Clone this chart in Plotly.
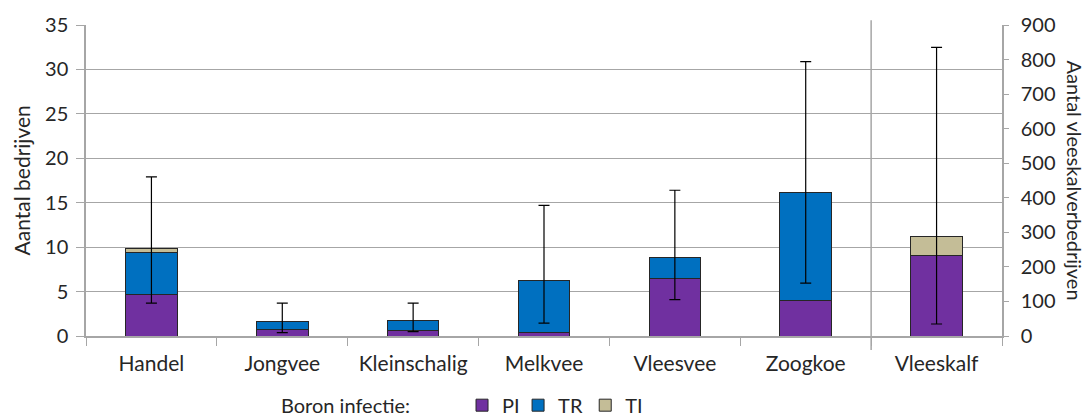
import plotly.graph_objects as go

categories = ["Handel", "Jongvee", "Kleinschalig", "Melkvee", "Vleesvee", "Zoogkoe", "Vleeskalf"]
left_cats = categories[:6]
right_cats = categories[6:]

# left axis (Aantal bedrijven)
pi_left = [4.7, 0.75, 0.64, 0.37, 6.45, 3.94]
tr_left = [4.72, 0.83, 1.16, 5.93, 2.33, 12.23]
ti_left = [0.41, 0.0, 0.0, 0.0, 0.0, 0.0]
err_up_left = [17.9, 3.7, 3.7, 14.7, 16.4, 30.87]
err_low_left = [3.7, 0.38, 0.49, 1.46, 4.1, 5.96]

# right axis (Aantal vleeskalverbedrijven)
pi_right = [233.5]
tr_right = [0.0]
ti_right = [55.0]
err_up_right = [835.5]
err_low_right = [34.7]

series_names = ["PI", "TR", "TI"]
colors = {"PI": "#7030A0", "TR": "#0070C0", "TI": "#C4BD97"}
outline = dict(color="#262626", width=1)
font_family = "Lato, 'Open Sans', sans-serif"
legend_ids = {"PI": "legend", "TR": "legend2", "TI": "legend3"}
legend_x = {"PI": 0.4105, "TR": 0.4717, "TI": 0.5450}

fig = go.Figure()
for name, lv, rv in [("PI", pi_left, pi_right), ("TR", tr_left, tr_right), ("TI", ti_left, ti_right)]:
    fig.add_trace(go.Bar(x=left_cats, y=lv, name=name, marker=dict(color=colors[name], line=outline),
                         width=0.395, legendgroup=name, showlegend=True, yaxis="y",
                         legend=legend_ids[name]))
    fig.add_trace(go.Bar(x=right_cats, y=rv, name=name, marker=dict(color=colors[name], line=outline),
                         width=0.395, legendgroup=name, showlegend=False, yaxis="y2",
                         legend=legend_ids[name]))

tot_left = [a + b + c for a, b, c in zip(pi_left, tr_left, ti_left)]
tot_right = [a + b + c for a, b, c in zip(pi_right, tr_right, ti_right)]

fig.add_trace(go.Scatter(
    x=left_cats, y=tot_left, mode="markers", marker=dict(size=0.1, color="rgba(0,0,0,0)"),
    showlegend=False, hoverinfo="skip", yaxis="y",
    error_y=dict(type="data", symmetric=False,
                 array=[u - t for u, t in zip(err_up_left, tot_left)],
                 arrayminus=[t - l for l, t in zip(err_low_left, tot_left)],
                 color="#000000", thickness=1.2, width=5.5)))
fig.add_trace(go.Scatter(
    x=right_cats, y=tot_right, mode="markers", marker=dict(size=0.1, color="rgba(0,0,0,0)"),
    showlegend=False, hoverinfo="skip", yaxis="y2",
    error_y=dict(type="data", symmetric=False,
                 array=[u - t for u, t in zip(err_up_right, tot_right)],
                 arrayminus=[t - l for l, t in zip(err_low_right, tot_right)],
                 color="#000000", thickness=1.2, width=5.5)))

sep_x = len(categories) - 1.5
fig.add_shape(type="line", xref="x", yref="paper", x0=sep_x, x1=sep_x, y0=-0.045, y1=1.015,
              line=dict(color="#A6A6A6", width=1.5), layer="below")

def legend_cfg(name):
    return dict(orientation="h", xref="paper", x=legend_x[name], xanchor="left",
                yref="container", y=0.026, yanchor="middle",
                font=dict(size=20), itemwidth=30, bgcolor="rgba(0,0,0,0)")

fig.update_layout(
    template="none",
    width=1086, height=416,
    margin=dict(l=86, r=84, t=25, b=80, autoexpand=False),
    barmode="stack",
    plot_bgcolor="white", paper_bgcolor="white",
    font=dict(family=font_family, size=20, color="#262626"),
    xaxis=dict(type="category", categoryorder="array", categoryarray=categories,
               range=[-0.5, len(categories) - 0.5],
               showline=True, linecolor="#A6A6A6", linewidth=1.5, mirror=False,
               ticks="outside", tickson="boundaries", ticklen=8, tickcolor="#A6A6A6",
               ticklabelstandoff=8,
               tickfont=dict(size=21, color="#262626"), showgrid=False, zeroline=False),
    yaxis=dict(range=[0, 35], dtick=5, showgrid=True, gridcolor="#A6A6A6", gridwidth=1.2,
               showline=True, linecolor="#A6A6A6", linewidth=1.5,
               ticks="outside", ticklen=8, tickcolor="#A6A6A6", ticklabelstandoff=4,
               tickfont=dict(size=20), zeroline=False),
    yaxis2=dict(range=[0, 900], dtick=100, overlaying="y", side="right", showgrid=False,
                showline=True, linecolor="#A6A6A6", linewidth=1.5,
                ticks="outside", ticklen=5, tickcolor="#A6A6A6", ticklabelstandoff=8,
                tickfont=dict(size=20), zeroline=False),
    legend=legend_cfg("PI"),
    legend2=legend_cfg("TR"),
    legend3=legend_cfg("TI"),
    annotations=[
        dict(text="Aantal bedrijven", xref="paper", yref="paper",
             x=-0.0699, y=0.5, textangle=-90, showarrow=False,
             xanchor="center", yanchor="middle", font=dict(size=21)),
        dict(text="Aantal vleeskalverbedrijven", xref="paper", yref="paper",
             x=1.0797, y=0.5, textangle=90, showarrow=False,
             xanchor="center", yanchor="middle", font=dict(size=20)),
        dict(text="Boron infectie:", xref="paper", yref="paper",
             x=0.2107, y=-0.222, showarrow=False,
             xanchor="left", yanchor="middle", font=dict(size=20)),
    ],
)

fig.write_html("out.html", post_script="document.body.style.margin='0';",
               config={"displayModeBar": False})
